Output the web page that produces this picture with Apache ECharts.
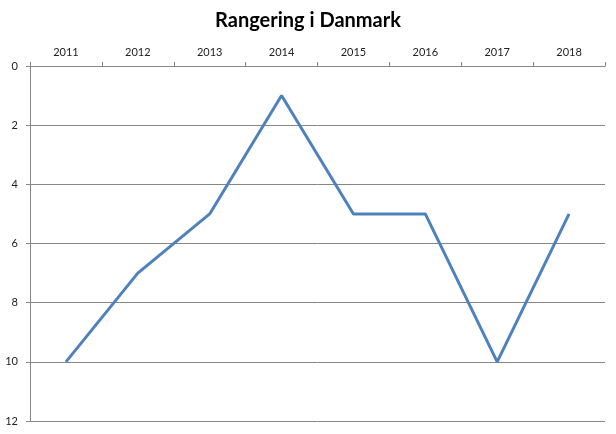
<!DOCTYPE html>
<html><head><meta charset="utf-8">
<script src="https://cdn.jsdelivr.net/npm/echarts@6/dist/echarts.min.js"></script>
<style>html,body{margin:0;padding:0;background:#fff}#c{width:616px;height:434px}</style>
</head><body><div id="c"></div>
<script>
const title = 'Rangering i Danmark';
const years = ['2011','2012','2013','2014','2015','2016','2017','2018'];
const ranks = [10, 7, 5, 1, 5, 5, 10, 5];
const yMin = 0, yMax = 12, yStep = 2;

const chart = echarts.init(document.getElementById('c'), null, {renderer:'canvas'});
chart.setOption({
  animation: false,
  backgroundColor: '#fff',
  title: {
    text: title, left: 'center', top: 6,
    textStyle: {fontFamily: 'Lato', fontWeight: 'bold', fontSize: 20, color: '#000'}
  },
  grid: {left: 30, right: 11, top: 66, bottom: 13, containLabel: false},
  xAxis: {
    type: 'category', data: years, position: 'top', boundaryGap: true,
    axisLine: {show: true, lineStyle: {color: '#868686', width: 1}},
    axisTick: {show: true, inside: false, length: 4, alignWithLabel: false, lineStyle: {color: '#868686'}},
    axisLabel: {color: '#222', fontFamily: 'Lato', fontSize: 11, margin: 8},
    splitLine: {show: false}
  },
  yAxis: {
    type: 'value', inverse: true, min: yMin, max: yMax, interval: yStep,
    axisLine: {show: true, lineStyle: {color: '#868686', width: 1}},
    axisTick: {show: true, length: 4, lineStyle: {color: '#868686'}},
    axisLabel: {color: '#222', fontFamily: 'Lato', fontSize: 11, margin: 12},
    splitLine: {show: true, lineStyle: {color: '#868686', width: 1}}
  },
  series: [{
    type: 'line', data: ranks, symbol: 'none',
    lineStyle: {color: '#4F81BD', width: 3}
  }]
});
</script></body></html>
